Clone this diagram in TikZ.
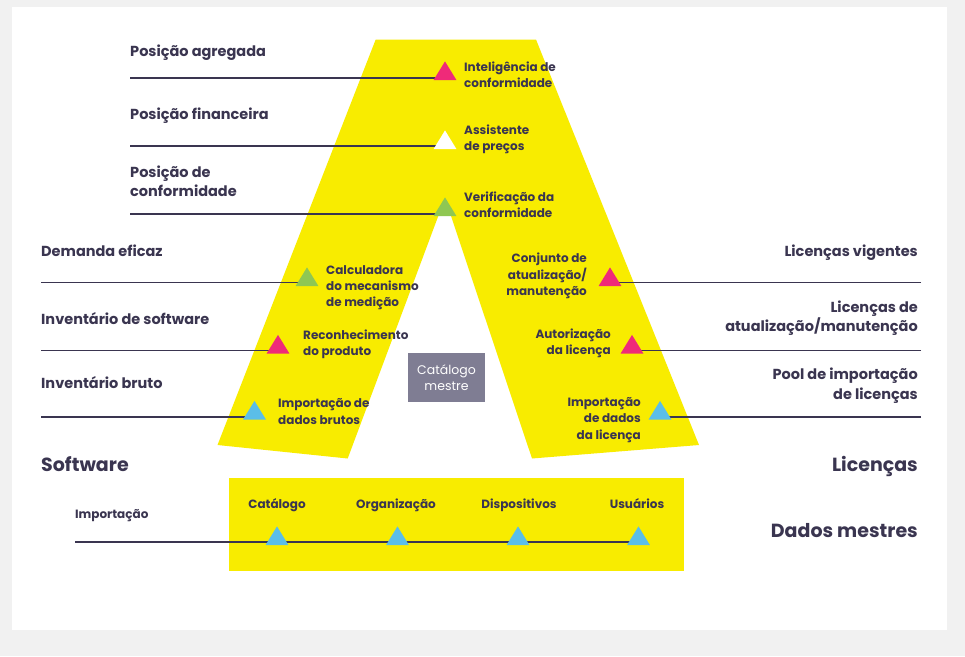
\documentclass[tikz,border=0pt]{standalone}
\usepackage{fontspec}
\setmainfont{Poppins}
\usetikzlibrary{shapes.geometric,backgrounds}
\definecolor{ink}{HTML}{3A3550}
\definecolor{ayellow}{HTML}{F8EC00}
\definecolor{apink}{HTML}{EF2A79}
\definecolor{agreen}{HTML}{8FC753}
\definecolor{ablue}{HTML}{5BBEE8}
\definecolor{agrey}{HTML}{7F7D93}
\definecolor{abg}{HTML}{F1F1F1}
\tikzset{
  tri/.style={isosceles triangle,isosceles triangle apex angle=63,shape border rotate=90,minimum height=18.6pt,minimum width=15pt,inner sep=0pt,outer sep=0pt,anchor=south,draw=none},
  rule/.style={draw=ink,line width=1.1pt},
  big/.style={text=ink,font=\fontsize{14.5}{19.5}\selectfont\bfseries,inner sep=0pt},
  small/.style={text=ink,font=\fontsize{12}{16.2}\selectfont\bfseries,inner sep=0pt},
  huge/.style={text=ink,font=\fontsize{19}{22}\selectfont\bfseries,inner sep=0pt},
  lft/.style={anchor=west,align=left},
  rgt/.style={anchor=east,align=right},
}
\begin{document}
\begin{tikzpicture}[x=1pt,y=-1pt]
\useasboundingbox (0,0) rectangle (965,656);
% triangles
\node[tri,fill=apink] (t1) at (445,80) {};
\node[tri,fill=white] (t2) at (445,149) {};
\node[tri,fill=agreen] (t3) at (445,216) {};
\node[tri,fill=agreen] (t4) at (307,286) {};
\node[tri,fill=apink] (t5) at (278,353.5) {};
\node[tri,fill=ablue] (t6) at (254.5,419.5) {};
\node[tri,fill=apink] (t7) at (610,286) {};
\node[tri,fill=apink] (t8) at (632,353.5) {};
\node[tri,fill=ablue] (t9) at (660,419.5) {};
\node[tri,fill=ablue] (m1) at (277,545) {};
\node[tri,fill=ablue] (m2) at (397.5,545) {};
\node[tri,fill=ablue] (m3) at (518,545) {};
\node[tri,fill=ablue] (m4) at (638.5,545) {};
% line ends
\coordinate (a1) at (130,78);
\coordinate (a2) at (130,146);
\coordinate (a3) at (130,214);
\coordinate (a4) at (41,282.5);
\coordinate (a5) at (41,350.5);
\coordinate (a6) at (41,417);
\coordinate (a7) at (921,282.5);
\coordinate (a8) at (921,350.5);
\coordinate (a9) at (921,417);
\coordinate (a0) at (75,542);
\begin{scope}[on background layer]
\fill[abg] (0,0) rectangle (965,656);
\fill[white] (12,7) rectangle (947,630);
\fill[ayellow] (375.7,39.5) -- (536,39.5) -- (699,445) -- (532,458.5) -- (445,198) -- (347.7,458.5) -- (217.5,445) -- cycle;
\fill[ayellow] (229,478) rectangle (684,571);
\draw[rule] (a1) -- (a1 -| t1);
\draw[rule] (a2) -- (a2 -| t2);
\draw[rule] (a3) -- (a3 -| t3);
\draw[rule] (a4) -- (a4 -| t4);
\draw[rule] (a5) -- (a5 -| t5);
\draw[rule] (a6) -- (a6 -| t6);
\draw[rule] (a7) -- (a7 -| t7);
\draw[rule] (a8) -- (a8 -| t8);
\draw[rule] (a9) -- (a9 -| t9);
\draw[rule] (a0) -- (a0 -| m4);
\end{scope}
% grey box
\node[fill=agrey,text=white,minimum width=77pt,minimum height=48.5pt,inner sep=0pt,align=center,font=\fontsize{12.5}{16.2}\selectfont] (cm) at (446.5,377.5) {Catálogo\\mestre};
% small labels
\node[small,lft] (s1) at (464,74.5) {Inteligência de\\conformidade};
\node[small,lft] (s2) at (464,139.5) {Assistente\\de preços};
\node[small,lft] (s3) at (464,204.5) {Verificação da\\conformidade};
\node[small,lft] (s4) at (326,287.5) {Calculadora\\do mecanismo\\de medição};
\node[small,lft] (s5) at (303,344) {Reconhecimento\\do produto};
\node[small,lft] (s6) at (278,411.5) {Importação de\\dados brutos};
\node[small,rgt] (s7) at (587,276) {Conjunto de\\atualização/\\manutenção};
\node[small,rgt] (s8) at (611,343.5) {Autorização\\da licença};
\node[small,rgt] (s9) at (641,420) {Importação\\de dados\\da licença};
\node[small,lft] (imp) at (75,516) {Importação};
\node[small] (c1) at (277,505) {Catálogo};
\node[small] (c2) at (396,505) {Organização};
\node[small] (c3) at (519,505) {Dispositivos};
\node[small] (c4) at (637,504) {Usuários};
% big labels
\node[big,lft] (b1) at (130,53) {Posição agregada};
\node[big,lft] (b2) at (130,116) {Posição financeira};
\node[big,lft] (b3) at (130,181) {Posição de\\conformidade};
\node[big,lft] (b4) at (41,251) {Demanda eficaz};
\node[big,lft] (b5) at (41,319) {Inventário de software};
\node[big,lft] (b6) at (41,383) {Inventário bruto};
\node[big,rgt] (b7) at (918,253) {Licenças vigentes};
\node[big,rgt] (b8) at (918,318) {Licenças de\\atualização/manutenção};
\node[big,rgt] (b9) at (918,385.5) {Pool de importação\\de licenças};
\node[huge,lft] (h1) at (41,464) {Software};
\node[huge,rgt] (h2) at (918,466) {Licenças};
\node[huge,rgt] (h3) at (918,531) {Dados mestres};
\end{tikzpicture}
\end{document}
